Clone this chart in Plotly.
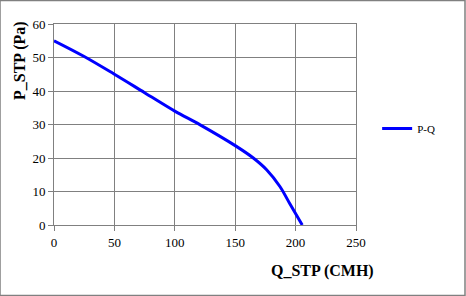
import plotly.graph_objects as go

q_cmh = [0, 25, 50, 75, 100, 121, 150, 165, 176, 187, 195, 205.5]
p_pa = [55, 50.3, 45, 39.5, 34, 29.9, 23.7, 20, 16.5, 11.5, 6.5, 0]
x_ticks = [0, 50, 100, 150, 200, 250]
y_ticks = [0, 10, 20, 30, 40, 50, 60]

font = "'Times New Roman', 'Liberation Serif', 'DejaVu Serif', serif"
grid = "#808080"

fig = go.Figure()
fig.add_trace(go.Scatter(x=q_cmh, y=p_pa, mode="lines", name="P-Q",
                         line=dict(color="#0000ff", width=3, shape="spline", smoothing=1)))

fig.update_layout(
    width=466, height=296,
    margin=dict(l=54, r=110, t=24, b=71),
    paper_bgcolor="white", plot_bgcolor="white",
    font=dict(family=font, size=13, color="black"),
    showlegend=True,
    legend=dict(x=1.07, y=0.48, xanchor="left", yanchor="middle",
                font=dict(family=font, size=11), bgcolor="rgba(0,0,0,0)",
                itemwidth=30),
    xaxis=dict(range=[0, 250], tickvals=x_ticks, showgrid=True, gridcolor=grid, gridwidth=1,
               zeroline=False, showline=True, linecolor=grid, linewidth=1, mirror=True,
               ticks="outside", ticklen=5, tickcolor=grid, fixedrange=True,
               tickfont=dict(family=font, size=13)),
    yaxis=dict(range=[0, 60], tickvals=y_ticks, showgrid=True, gridcolor=grid, gridwidth=1,
               zeroline=False, showline=True, linecolor=grid, linewidth=1, mirror=True,
               ticks="outside", ticklen=5, tickcolor=grid, fixedrange=True,
               tickfont=dict(family=font, size=13)),
    shapes=[dict(type="rect", xref="paper", yref="paper", x0=-54/302, x1=(466-54-1)/302,
                 y0=-(71-0.5)/201, y1=(296-71-0.5)/201, line=dict(color="#808080", width=1.5))],
    annotations=[
        dict(text="<b>Q_STP (CMH)</b>", xref="paper", yref="paper",
             x=(322-54)/302, y=-(271-225)/201, xanchor="center", yanchor="middle",
             showarrow=False, font=dict(family=font, size=16)),
        dict(text="<b>P_STP (Pa)</b>", xref="paper", yref="paper",
             x=-(54-20)/302, y=(225-61)/201, xanchor="center", yanchor="middle",
             textangle=-90, showarrow=False, font=dict(family=font, size=16)),
    ],
)

fig.write_html("out.html")
